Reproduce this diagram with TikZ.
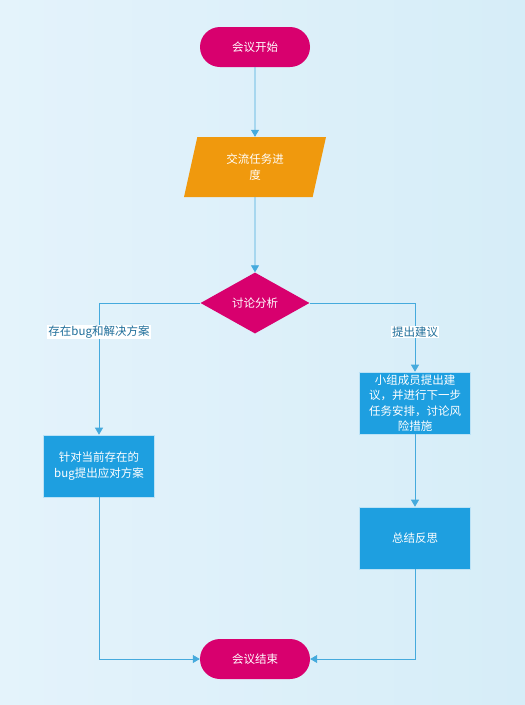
\documentclass[tikz,border=0pt]{standalone}
\usepackage{fontspec}
\setmainfont{Noto Sans CJK SC}
\usetikzlibrary{shapes.geometric,shapes.misc,arrows.meta}
\definecolor{bgA}{HTML}{E4F3FB}
\definecolor{bgB}{HTML}{D6EDF8}
\definecolor{mag}{HTML}{D8006E}
\definecolor{org}{HTML}{F0990D}
\definecolor{boxb}{HTML}{1E9FE0}
\definecolor{lineb}{HTML}{45AADD}
\definecolor{labt}{HTML}{1F6E9A}
\begin{document}
\begin{tikzpicture}[x=1pt,y=-1pt,
  font=\fontsize{11.5}{15.5}\selectfont,
  term/.style={rounded rectangle, fill=mag, text=white, minimum width=110pt, minimum height=40pt, inner sep=0pt},
  para/.style={trapezium, trapezium stretches body, trapezium left angle=63, trapezium right angle=117, fill=org, text=white, minimum width=142pt, minimum height=60pt, align=center, inner sep=0pt},
  dia/.style={diamond, aspect=1.8, fill=mag, text=white, minimum width=109pt, minimum height=61pt, inner sep=0pt},
  procbox/.style={rectangle, fill=boxb, text=white, draw=white!70!boxb, line width=0.6pt, minimum width=111pt, minimum height=62pt, align=center, inner sep=0pt},
  conn/.style={draw=lineb, line width=0.8pt, -{Triangle[length=7pt,width=8pt]}},
  lab/.style={fill=white, text=labt, inner sep=1pt}
]
\shade[left color=bgA, right color=bgB] (0,0) rectangle (525,705);
\useasboundingbox (0,0) rectangle (525,705);
\node[term] (start) at (255,47) {会议开始};
\node[para] (prog) at (255,167) {交流任务进\\度};
\node[dia] (disc) at (255,303) {讨论分析};
\node[procbox] (fix) at (99,466) {针对当前存在的\\bug提出应对方案};
\node[procbox] (sugg) at (415,403) {小组成员提出建\\议，并进行下一步\\任务安排，讨论风\\险措施};
\node[procbox] (sum) at (415,538) {总结反思};
\node[term] (end) at (255,659) {会议结束};
\draw[conn] (start) -- (prog);
\draw[conn] (prog) -- (disc);
\draw[conn] (disc.west) -| node[lab, pos=0.61] {存在bug和解决方案} (fix.north);
\draw[conn] (disc.east) -| node[lab, pos=0.71] {提出建议} (sugg.north);
\draw[conn] (sugg) -- (sum);
\draw[conn] (fix.south) |- (end.west);
\draw[conn] (sum.south) |- (end.east);
\end{tikzpicture}
\end{document}
